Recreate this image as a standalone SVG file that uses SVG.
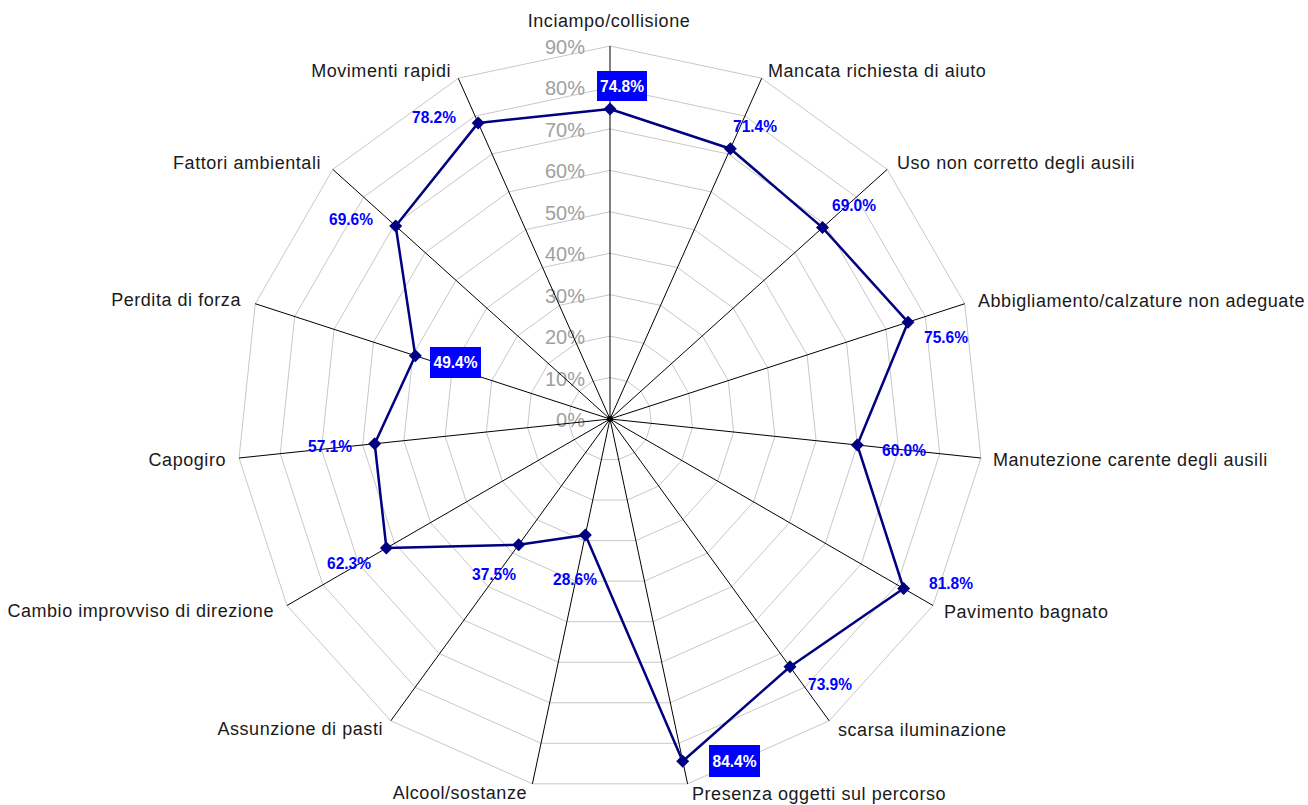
<svg xmlns="http://www.w3.org/2000/svg" xmlns:xlink="http://www.w3.org/1999/xlink" width="1308" height="805" viewBox="0 0 1308 805">
<style>
.ring{fill:none;stroke:#c8c8c8;stroke-width:1;vector-effect:non-scaling-stroke}
.axis{stroke:#000;stroke-width:1}
.tick{font-family:"Liberation Sans",Arial,sans-serif;font-size:20px;fill:#a0a0a0;text-anchor:end}
.lbl{font-family:"Liberation Sans",Arial,sans-serif;font-size:18px;fill:#1a1a1a;letter-spacing:0.55px}
.val{font-family:"Liberation Sans",Arial,sans-serif;font-size:17px;font-weight:bold;fill:#0000ff}
.valw{font-family:"Liberation Sans",Arial,sans-serif;font-size:17px;font-weight:bold;fill:#fff;text-anchor:middle}
.box{fill:#0000ff}
.series{fill:none;stroke:#000080;stroke-width:2.5;stroke-linejoin:round}
.mk{fill:#000080}
</style>
<defs>
<polygon id="ring" class="ring" points="0,-100 40.674,-91.355 74.314,-66.913 95.106,-30.902 99.452,10.453 86.603,50 58.779,80.902 20.791,97.815 -20.791,97.815 -58.779,80.902 -86.603,50 -99.452,10.453 -95.106,-30.902 -74.314,-66.913 -40.674,-91.355"/>
<path id="dm" d="M0,-6.5 L6.5,0 L0,6.5 L-6.5,0 Z"/>
</defs>
<rect width="1308" height="805" fill="#fff"/>
<g id="grid">
<use xlink:href="#ring" transform="translate(610,419) scale(0.41444)"/>
<use xlink:href="#ring" transform="translate(610,419) scale(0.82889)"/>
<use xlink:href="#ring" transform="translate(610,419) scale(1.24333)"/>
<use xlink:href="#ring" transform="translate(610,419) scale(1.65778)"/>
<use xlink:href="#ring" transform="translate(610,419) scale(2.07222)"/>
<use xlink:href="#ring" transform="translate(610,419) scale(2.48667)"/>
<use xlink:href="#ring" transform="translate(610,419) scale(2.90111)"/>
<use xlink:href="#ring" transform="translate(610,419) scale(3.31556)"/>
<use xlink:href="#ring" transform="translate(610,419) scale(3.73)"/>
</g>
<g id="ticks">
<text class="tick" x="585" y="427">0%</text>
<text class="tick" x="585" y="386">10%</text>
<text class="tick" x="585" y="344">20%</text>
<text class="tick" x="585" y="303">30%</text>
<text class="tick" x="585" y="261">40%</text>
<text class="tick" x="585" y="220">50%</text>
<text class="tick" x="585" y="178">60%</text>
<text class="tick" x="585" y="137">70%</text>
<text class="tick" x="585" y="95">80%</text>
<text class="tick" x="585" y="54">90%</text>
</g>
<g id="connectors">
<line class="axis" x1="610" y1="419" x2="610" y2="46"/>
<line class="axis" x1="610" y1="419" x2="761.7" y2="78.3"/>
<line class="axis" x1="610" y1="419" x2="887.2" y2="169.4"/>
<line class="axis" x1="610" y1="419" x2="964.8" y2="303.7"/>
<line class="axis" x1="610" y1="419" x2="980.9" y2="458"/>
<line class="axis" x1="610" y1="419" x2="933" y2="605.5"/>
<line class="axis" x1="610" y1="419" x2="829.2" y2="720.8"/>
<line class="axis" x1="610" y1="419" x2="687.6" y2="783.9"/>
<line class="axis" x1="610" y1="419" x2="532.4" y2="783.9"/>
<line class="axis" x1="610" y1="419" x2="390.8" y2="720.8"/>
<line class="axis" x1="610" y1="419" x2="287" y2="605.5"/>
<line class="axis" x1="610" y1="419" x2="239.1" y2="458"/>
<line class="axis" x1="610" y1="419" x2="255.2" y2="303.7"/>
<line class="axis" x1="610" y1="419" x2="332.8" y2="169.4"/>
<line class="axis" x1="610" y1="419" x2="458.3" y2="78.3"/>
<circle cx="610" cy="419" r="3" fill="#000"/>
</g>
<g id="series">
<polygon class="series" points="610,109 730.4,148.7 822.5,227.6 908,322.2 857.3,445 903.6,588.5 790,666.8 682.7,761.2 585.4,534.9 518.7,544.7 386.4,548.1 374.7,443.7 415.3,355.7 395.7,226 478.2,122.9"/>
<use xlink:href="#dm" class="mk" x="610" y="109"/>
<use xlink:href="#dm" class="mk" x="730.4" y="148.7"/>
<use xlink:href="#dm" class="mk" x="822.5" y="227.6"/>
<use xlink:href="#dm" class="mk" x="908" y="322.2"/>
<use xlink:href="#dm" class="mk" x="857.3" y="445"/>
<use xlink:href="#dm" class="mk" x="903.6" y="588.5"/>
<use xlink:href="#dm" class="mk" x="790" y="666.8"/>
<use xlink:href="#dm" class="mk" x="682.7" y="761.2"/>
<use xlink:href="#dm" class="mk" x="585.4" y="534.9"/>
<use xlink:href="#dm" class="mk" x="518.7" y="544.7"/>
<use xlink:href="#dm" class="mk" x="386.4" y="548.1"/>
<use xlink:href="#dm" class="mk" x="374.7" y="443.7"/>
<use xlink:href="#dm" class="mk" x="415.3" y="355.7"/>
<use xlink:href="#dm" class="mk" x="395.7" y="226"/>
<use xlink:href="#dm" class="mk" x="478.2" y="122.9"/>
</g>
<g id="values">
<rect class="box" x="597" y="71" width="50" height="30"/>
<text class="valw" x="622" y="92" textLength="44" lengthAdjust="spacingAndGlyphs">74.8%</text>
<rect class="box" x="430" y="347" width="51" height="31"/>
<text class="valw" x="455.5" y="368" textLength="44" lengthAdjust="spacingAndGlyphs">49.4%</text>
<rect class="box" x="709" y="745" width="51" height="32"/>
<text class="valw" x="734.5" y="767" textLength="44" lengthAdjust="spacingAndGlyphs">84.4%</text>
<text class="val" x="733" y="132" textLength="44" lengthAdjust="spacingAndGlyphs">71.4%</text>
<text class="val" x="832" y="211" textLength="44" lengthAdjust="spacingAndGlyphs">69.0%</text>
<text class="val" x="924" y="343" textLength="44" lengthAdjust="spacingAndGlyphs">75.6%</text>
<text class="val" x="882" y="456" textLength="44" lengthAdjust="spacingAndGlyphs">60.0%</text>
<text class="val" x="929" y="589" textLength="44" lengthAdjust="spacingAndGlyphs">81.8%</text>
<text class="val" x="808" y="690" textLength="44" lengthAdjust="spacingAndGlyphs">73.9%</text>
<text class="val" x="553" y="585" textLength="44" lengthAdjust="spacingAndGlyphs">28.6%</text>
<text class="val" x="472" y="580" textLength="44" lengthAdjust="spacingAndGlyphs">37.5%</text>
<text class="val" x="327" y="569" textLength="44" lengthAdjust="spacingAndGlyphs">62.3%</text>
<text class="val" x="308" y="452" textLength="44" lengthAdjust="spacingAndGlyphs">57.1%</text>
<text class="val" x="329" y="225" textLength="44" lengthAdjust="spacingAndGlyphs">69.6%</text>
<text class="val" x="412" y="123" textLength="44" lengthAdjust="spacingAndGlyphs">78.2%</text>
</g>
<g id="labels">
<text class="lbl" x="609" y="27" text-anchor="middle">Inciampo/collisione</text>
<text class="lbl" x="768" y="77">Mancata richiesta di aiuto</text>
<text class="lbl" x="897" y="169">Uso non corretto degli ausili</text>
<text class="lbl" x="978" y="307">Abbigliamento/calzature non adeguate</text>
<text class="lbl" x="993" y="466">Manutezione carente degli ausili</text>
<text class="lbl" x="944" y="618">Pavimento bagnato</text>
<text class="lbl" x="838" y="736">scarsa iluminazione</text>
<text class="lbl" x="692" y="800">Presenza oggetti sul percorso</text>
<text class="lbl" x="527" y="799" text-anchor="end">Alcool/sostanze</text>
<text class="lbl" x="383" y="735" text-anchor="end">Assunzione di pasti</text>
<text class="lbl" x="274" y="617" text-anchor="end">Cambio improvviso di direzione</text>
<text class="lbl" x="226" y="466" text-anchor="end">Capogiro</text>
<text class="lbl" x="241" y="306" text-anchor="end">Perdita di forza</text>
<text class="lbl" x="321" y="169" text-anchor="end">Fattori ambientali</text>
<text class="lbl" x="451" y="77" text-anchor="end">Movimenti rapidi</text>
</g>
</svg>
